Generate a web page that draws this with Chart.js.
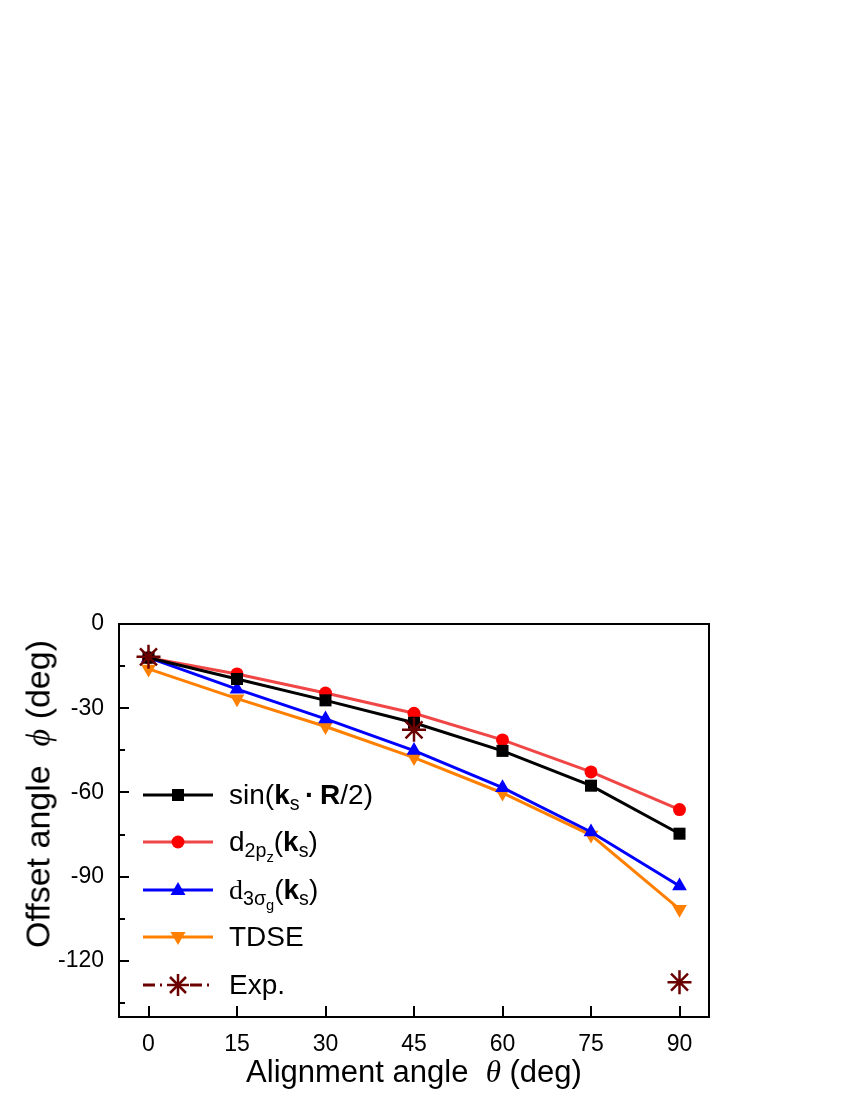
<!DOCTYPE html>
<html>
<head>
<meta charset="utf-8">
<script src="https://cdn.jsdelivr.net/npm/chart.js@4.4.1/dist/chart.umd.min.js"></script>
<style>
  body { margin: 0; background: #fff; }
  #wrap { position: relative; width: 850px; height: 1100px; font-family: "Liberation Sans", Arial, sans-serif; color: #000; }
  #chart { position: absolute; left: 0; top: 0; }
  .ytitle { position: absolute; left: 38px; top: 794px; width: 420px; text-align: center; font-size: 34px;
            transform: translate(-50%, -50%) rotate(-90deg); white-space: nowrap; }
  .xtitle { position: absolute; left: 414px; top: 1072px; transform: translate(-50%, -50%); font-size: 31px; white-space: nowrap; }
  .greek { font-family: "Liberation Serif", "DejaVu Serif", serif; font-style: italic; }
  .legend { position: absolute; left: 141px; top: 771px; }
  .row { display: flex; align-items: center; height: 47.5px; font-size: 28px; white-space: nowrap; }
  .row svg { margin-right: 14px; flex: none; }
  .row sub { font-size: 70%; vertical-align: -0.3em; line-height: 0; }
  .row sub sub { font-size: 75%; vertical-align: -0.35em; }
  .serif { font-family: "Liberation Serif", "DejaVu Serif", serif; }
</style>
</head>
<body>
<div id="wrap">
  <canvas id="chart" width="850" height="1100"></canvas>
  <div class="ytitle">Offset angle&nbsp;&nbsp;<span class="greek">ϕ</span>&nbsp;(deg)</div>
  <div class="xtitle">Alignment angle&nbsp;&nbsp;<span class="greek">θ</span>&nbsp;(deg)</div>
  <div class="legend" id="legend"></div>
</div>
<script>
// values
const angles = [0, 15, 30, 45, 60, 75, 90];
const sinKR = [-12, -19.6, -27.2, -35.2, -45.2, -57.6, -74.7];
const d2pz = [-12, -17.8, -24.6, -31.8, -41.3, -52.7, -66.1];
const d3sg = [-12, -23.2, -33.8, -45.1, -58.3, -74.1, -93.3];
const tdse = [-16, -26.6, -36.5, -47.6, -60.2, -75.2, -101.6];
const expAngles = [0, 45, 90];
const expValues = [-11.7, -37.7, -127.6];

const xTicks = [0, 15, 30, 45, 60, 75, 90];
const yTicks = [0, -15, -30, -45, -60, -75, -90, -105, -120, -135];
const yTickLabels = [0, -30, -60, -90, -120];

const FONT = '"Liberation Sans", Arial, sans-serif';

function pts(xs, ys) {
  return xs.map((x, i) => ({ x: x, y: ys[i] }));
}

// frame + inward ticks
const framePlugin = {
  id: 'frame',
  afterDatasetsDraw(chart) {
    const { ctx, chartArea: a, scales } = chart;
    ctx.save();
    ctx.strokeStyle = '#000';
    ctx.lineWidth = 2;
    ctx.strokeRect(a.left, a.top, a.right - a.left, a.bottom - a.top);
    ctx.beginPath();
    yTicks.forEach(v => {
      const y = Math.round(scales.y.getPixelForValue(v));
      const len = yTickLabels.includes(v) ? 10 : 6;
      ctx.moveTo(a.left, y);
      ctx.lineTo(a.left + len, y);
    });
    xTicks.forEach(v => {
      const x = Math.round(scales.x.getPixelForValue(v));
      ctx.moveTo(x, a.bottom);
      ctx.lineTo(x, a.bottom - 11);
    });
    ctx.stroke();
    ctx.restore();
  }
};

new Chart(document.getElementById('chart'), {
  type: 'line',
  data: {
    datasets: [
      {
        label: 'sin', data: pts(angles, sinKR),
        borderColor: '#000', backgroundColor: '#000', borderWidth: 3,
        pointStyle: 'rect', pointRadius: 8.5, pointBorderWidth: 0
      },
      {
        label: 'd2pz', data: pts(angles, d2pz),
        borderColor: '#f04646', backgroundColor: '#ff0000', borderWidth: 3,
        pointStyle: 'circle', pointRadius: 6.5, pointBorderWidth: 0
      },
      {
        label: 'd3sg', data: pts(angles, d3sg),
        borderColor: '#0000ff', backgroundColor: '#0000ff', borderWidth: 3,
        pointStyle: 'triangle', pointRadius: 8.5, pointBorderWidth: 0
      },
      {
        label: 'TDSE', data: pts(angles, tdse),
        borderColor: '#ff8000', backgroundColor: '#ff8000', borderWidth: 3,
        pointStyle: 'triangle', pointRotation: 180, pointRadius: 8.5, pointBorderWidth: 0
      },
      {
        label: 'Exp.', data: pts(expAngles, expValues), order: -1,
        showLine: false,
        borderColor: '#6b0000', backgroundColor: '#6b0000',
        pointStyle: 'star', pointRadius: 12, pointBorderWidth: 2.5
      }
    ]
  },
  options: {
    responsive: false,
    animation: false,
    events: [],
    layout: { padding: { top: 624, right: 141, left: 0, bottom: 0 } },
    plugins: { legend: { display: false }, tooltip: { enabled: false } },
    elements: { line: { tension: 0 } },
    scales: {
      x: {
        type: 'linear', min: -5, max: 95,
        grid: { display: false }, border: { display: false },
        afterBuildTicks: s => { s.ticks = xTicks.map(v => ({ value: v })); },
        afterFit: s => { s.height = 83; },
        ticks: { padding: 6, color: '#000', font: { family: FONT, size: 23 }, maxRotation: 0 }
      },
      y: {
        type: 'linear', min: -140, max: 0,
        grid: { display: false }, border: { display: false },
        afterBuildTicks: s => { s.ticks = yTicks.map(v => ({ value: v })); },
        afterFit: s => { s.width = 119; },
        ticks: {
          padding: 7, color: '#000', font: { family: FONT, size: 23 },
          callback: v => yTickLabels.includes(v) ? String(v) : ''
        }
      }
    }
  },
  plugins: [framePlugin]
});

// HTML legend (subscripts need real markup)
const legendItems = [
  { color: '#000', mark: 'rect', mc: '#000', html: 'sin(<b>k</b><sub>s</sub>&thinsp;<b>·</b>&thinsp;<b>R</b>/2)' },
  { color: '#f04646', mark: 'circle', mc: '#ff0000', html: 'd<sub>2p<sub>z</sub></sub>(<b>k</b><sub>s</sub>)' },
  { color: '#0000ff', mark: 'tri', mc: '#0000ff', html: '<span class="serif">d</span><sub>3σ<sub>g</sub></sub>(<b>k</b><sub>s</sub>)' },
  { color: '#ff8000', mark: 'tridown', mc: '#ff8000', html: 'TDSE' },
  { color: '#6b0000', mark: 'star', mc: '#6b0000', html: 'Exp.', dash: '12 5 2 5' }
];

function markSvg(it) {
  const cx = 37, cy = 12;
  let line = `<line x1="2" y1="${cy}" x2="72" y2="${cy}" stroke="${it.color}" stroke-width="3"/>`;
  let m = '';
  if (it.mark === 'rect') m = `<rect x="${cx - 6}" y="${cy - 6}" width="12" height="12" fill="${it.mc}"/>`;
  if (it.mark === 'circle') m = `<circle cx="${cx}" cy="${cy}" r="6.5" fill="${it.mc}"/>`;
  if (it.mark === 'tri') m = `<polygon points="${cx},${cy - 8} ${cx - 7.5},${cy + 5} ${cx + 7.5},${cy + 5}" fill="${it.mc}"/>`;
  if (it.mark === 'tridown') m = `<polygon points="${cx},${cy + 8} ${cx - 7.5},${cy - 5} ${cx + 7.5},${cy - 5}" fill="${it.mc}"/>`;
  if (it.mark === 'star') {
    m = `<g stroke="${it.mc}" stroke-width="2.5">` +
      `<line x1="${cx - 11}" y1="${cy}" x2="${cx + 11}" y2="${cy}"/>` +
      `<line x1="${cx}" y1="${cy - 11}" x2="${cx}" y2="${cy + 11}"/>` +
      `<line x1="${cx - 8}" y1="${cy - 8}" x2="${cx + 8}" y2="${cy + 8}"/>` +
      `<line x1="${cx - 8}" y1="${cy + 8}" x2="${cx + 8}" y2="${cy - 8}"/></g>`;
    line = `<line x1="2" y1="${cy}" x2="${cx - 12}" y2="${cy}" stroke="${it.color}" stroke-width="3" stroke-dasharray="${it.dash}"/>` +
           `<line x1="${cx + 12}" y1="${cy}" x2="72" y2="${cy}" stroke="${it.color}" stroke-width="3" stroke-dasharray="${it.dash}"/>`;
  }
  return `<svg width="74" height="24">${line}${m}</svg>`;
}

const legendEl = document.getElementById('legend');
legendItems.forEach(it => {
  const row = document.createElement('div');
  row.className = 'row';
  row.innerHTML = markSvg(it) + `<span>${it.html}</span>`;
  legendEl.appendChild(row);
});
</script>
</body>
</html>
